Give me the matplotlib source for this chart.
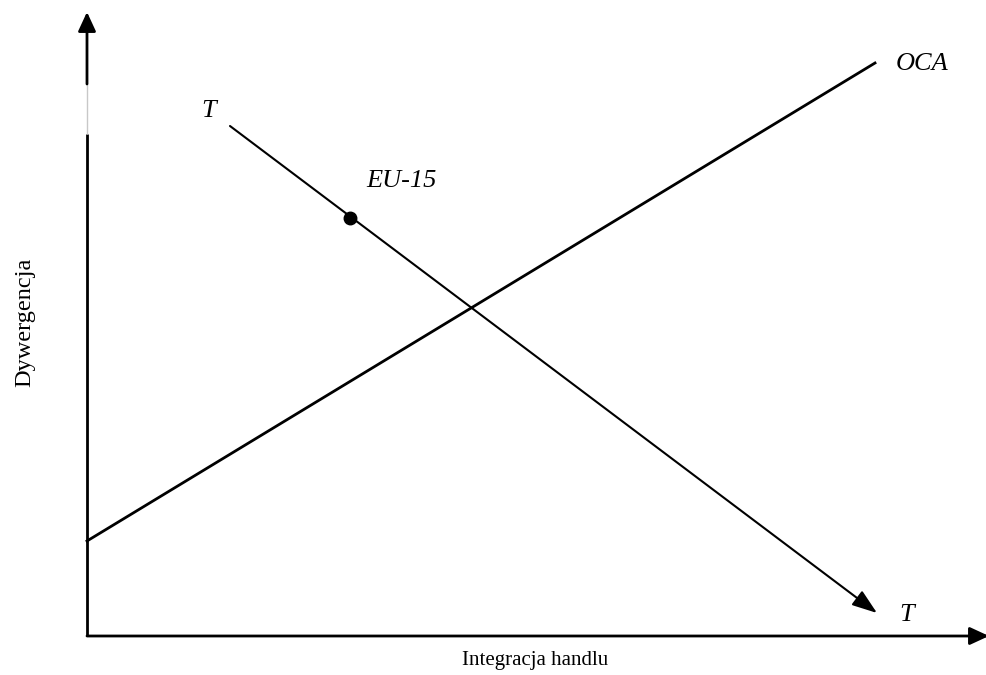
import matplotlib.pyplot as plt

# schematic data (abstract units, origin at axes corner)
oca_x = [0.0, 78.8]
oca_y = [9.5, 57.3]
t_x = [14.3, 79.0]
t_y = [51.0, 2.3]
eu_x = [26.3]
eu_y = [41.8]

plt.rcParams['font.family'] = ['Liberation Serif', 'DejaVu Serif']

fig = plt.figure(figsize=(9.87, 6.75), dpi=100)
ax = fig.add_axes([87 / 987, 39 / 675, 902 / 987, 624 / 675])
ax.set_xlim(0, 90.2)
ax.set_ylim(0, 62.4)
ax.axis('off')

head = '-|>,head_length=0.65,head_width=0.3'
# axes with arrows
ax.annotate('', xy=(90.2, 0), xytext=(0, 0),
            arrowprops=dict(arrowstyle=head, color='black', lw=2, mutation_scale=18,
                            shrinkA=0, shrinkB=0), annotation_clip=False)
ax.annotate('', xy=(0, 62.4), xytext=(0, 55.2),
            arrowprops=dict(arrowstyle=head, color='black', lw=2, mutation_scale=18,
                            shrinkA=0, shrinkB=0), annotation_clip=False)
ax.plot([0, 0], [0, 50.2], color='black', lw=2, solid_capstyle='butt', clip_on=False)
ax.plot([0, 0], [50.2, 55.2], color='#c8c8c8', lw=1, solid_capstyle='butt', clip_on=False)

# OCA line
ax.plot(oca_x, oca_y, color='black', lw=2, clip_on=False)
# T line with arrow
ax.annotate('', xy=(t_x[1], t_y[1]), xytext=(t_x[0], t_y[0]),
            arrowprops=dict(arrowstyle='-|>,head_length=0.85,head_width=0.3', color='black',
                            lw=1.5, mutation_scale=18, shrinkA=0, shrinkB=0))
ax.plot(eu_x, eu_y, 'o', color='black', markersize=9)

fs = 19
ax.text(12.2, 52.5, 'T', style='italic', fontsize=fs, ha='center', va='center')
ax.text(31.4, 45.5, 'EU-15', style='italic', fontsize=fs, ha='center', va='center')
ax.text(83.5, 57.2, 'OCA', style='italic', fontsize=fs, ha='center', va='center')
ax.text(82.0, 2.1, 'T', style='italic', fontsize=fs, ha='center', va='center')

fig.text(535 / 987, 1 - 661 / 675, 'Integracja handlu', fontsize=15, ha='center', va='center')
fig.text(25 / 987, 1 - 322 / 675, 'Dywergencja', fontsize=17.5, ha='center', va='center',
         rotation=90)

fig.savefig('out.png', dpi=100)
